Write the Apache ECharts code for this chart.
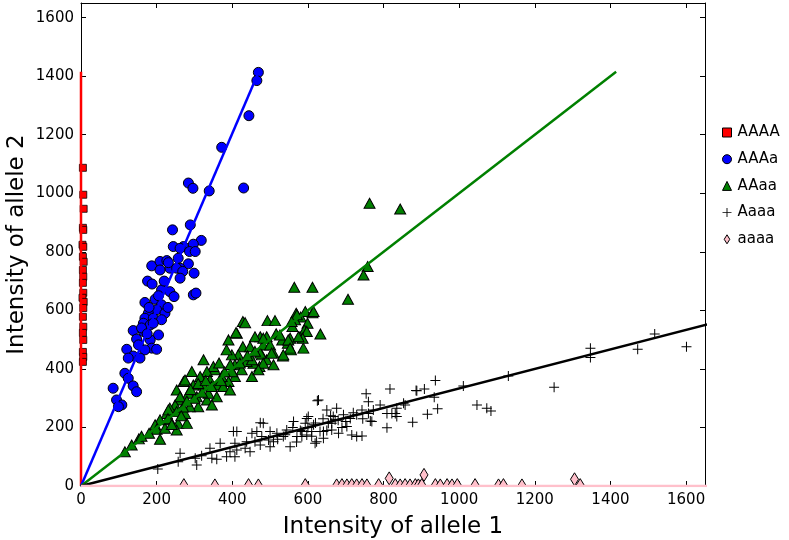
<!DOCTYPE html>
<html>
<head>
<meta charset="utf-8">
<script src="https://cdn.jsdelivr.net/npm/echarts@6.0.0/dist/echarts.min.js"></script>
<style>
  html, body { margin: 0; padding: 0; background: #fff; }
  #chart { width: 789px; height: 540px; }
</style>
</head>
<body>
<div id="chart"></div>
<script>
// tick labels
var xTicks = [0, 200, 400, 600, 800, 1000, 1200, 1400, 1600];
var yTicks = [0, 200, 400, 600, 800, 1000, 1200, 1400, 1600];

// genotype groups: [intensity allele 1, intensity allele 2]
var ptsAAAA = [[5,1087],[6,995],[7,947],[5,882],[6,875],[4,824],[6,817],[5,783],[7,766],[5,738],
  [6,715],[5,694],[6,660],[4,643],[7,629],[6,608],[5,578],[6,544],[5,523],[6,499],[5,458],[6,441],[5,424]];

var ptsAAAa = [[469,1413],[465,1385],[444,1265],[372,1157],[430,1018],[339,1008],[284,1035],[296,1017],
  [289,892],[242,875],[318,839],[297,826],[244,818],[271,818],[262,812],[287,801],[302,801],[257,778],
  [187,752],[209,767],[227,770],[284,759],[235,744],[262,744],[209,738],[231,763],[253,744],[269,733],
  [299,727],[262,710],[213,670],[235,664],[246,647],[297,653],[304,659],[169,627],[196,638],[213,619],
  [200,602],[222,590],[178,590],[169,573],[191,573],[213,568],[165,556],[183,550],[191,556],[138,531],
  [165,528],[205,516],[147,502],[183,499],[152,482],[121,467],[187,471],[200,467],[169,465],[138,444],
  [156,437],[125,437],[116,385],[125,368],[138,342],[147,322],[85,334],[94,294],[108,277],[99,271],
  [176,700],[188,690],[220,700],[205,650],[180,610],[230,610],[160,540],[175,520]];

var ptsAAaa = [[763,966],[844,946],[758,750],[747,721],[706,638],[564,679],[612,679],[593,596],[569,590],
  [612,592],[581,577],[599,556],[633,519],[591,533],[579,510],[566,568],[559,545],[553,505],[547,488],
  [532,499],[588,471],[555,465],[534,444],[516,520],[493,565],[513,565],[428,562],[474,510],[460,510],
  [491,510],[412,522],[390,499],[428,476],[447,476],[482,482],[500,482],[509,454],[478,448],[491,431],
  [509,414],[472,408],[456,419],[438,425],[416,448],[399,448],[385,465],[407,414],[425,397],[452,374],
  [407,374],[390,357],[372,374],[354,397],[350,408],[324,431],[293,391],[333,391],[315,374],[341,362],
  [359,345],[376,340],[394,328],[324,345],[297,345],[271,357],[253,328],[284,317],[306,305],[333,294],
  [359,305],[337,317],[346,277],[310,271],[288,271],[262,294],[249,277],[235,266],[253,254],[275,248],
  [227,248],[209,226],[235,226],[257,214],[253,191],[280,214],[196,209],[209,160],[200,194],[222,197],
  [153,161],[134,140],[116,117],[434,558],[410,524],[275,362],[262,305],[231,260],[597,528],[586,505],
  [571,585],[615,596],[557,562],[482,505],[526,516],[575,510],[548,499],[553,471],[535,448],[504,454],
  [474,454],[482,419],[469,397],[452,431],[300,300],[320,320],[345,340],[370,360],[400,390],[420,420],
  [440,445],[460,460],[230,230],[270,270],[180,180],[160,170],[290,330],[310,350],[365,420],[380,390],
  [395,415],[330,360],[280,290],[240,210],[265,240]];

var ptsAaaa = [[1601,476],[1517,519],[1472,467],[1347,471],[1347,439],[1251,337],[1130,376],[1011,342],
  [937,360],[908,331],[886,326],[817,331],[754,315],[934,303],[943,264],[916,245],[877,218],[809,199],
  [1047,277],[1073,266],[1084,256],[857,277],[835,237],[822,248],[791,277],[760,288],[769,220],[773,260],
  [743,260],[729,243],[712,231],[694,243],[676,266],[672,226],[703,203],[716,174],[743,171],[663,214],
  [888,325],[625,291],[619,146],[584,169],[681,180],[729,169],[650,260],[641,186],[610,186],[597,231],
  [760,248],[765,222],[809,248],[831,248],[853,283],[835,266],[203,58],[262,112],[306,72],[302,95],
  [319,103],[341,129],[359,91],[368,146],[385,100],[407,100],[412,123],[394,117],[407,146],[412,186],
  [438,151],[447,117],[460,151],[465,186],[482,214],[478,169],[496,157],[500,186],[518,180],[509,151],
  [535,169],[544,191],[553,134],[562,220],[571,169],[584,186],[593,214],[601,237],[615,209],[623,151],
  [628,294],[641,163],[654,214],[667,237],[663,191],[632,186],[597,174],[500,134],[474,140],[434,129],
  [257,83],[346,95],[403,186],[474,216],[452,180],[560,200],[580,190],[600,200],[620,215],[640,230],
  [660,240],[680,225],[700,220],[720,250],[745,230],[690,200],[650,190],[520,160],[540,175],[570,150],
  [610,170]];

var ptsaaaa = [[272,3],[354,2],[443,3],[469,2],[593,3],[676,2],[690,3],[703,2],[716,3],[729,2],[743,3],
  [756,2],[787,3],[815,26],[831,3],[844,2],[857,3],[870,2],[884,3],[892,2],[901,3],[907,38],[937,3],
  [950,2],[968,3],[981,2],[995,3],[1042,3],[1104,2],[1117,3],[1166,2],[1305,23],[1320,3]];

// fitted lines through the origin
var fitAAAA = [[0,0],[0,1415]];
var fitAAAa = [[0,0],[470,1415]];
var fitAAaa = [[0,0],[1415,1415]];
var fitAaaa = [[0,0],[4245,1415]];
var fitaaaa = [[0,0],[4245,0]];

var font = 'DejaVu Sans';
var plusPath = 'path://M-0.1,-1L0.1,-1L0.1,-0.1L1,-0.1L1,0.1L0.1,0.1L0.1,1L-0.1,1L-0.1,0.1L-1,0.1L-1,-0.1L-0.1,-0.1Z';
var diamondPath = 'path://M0,-1L0.62,0L0,1L-0.62,0Z';

function tickFmt(list) {
  return function (v) { return list.indexOf(v) >= 0 ? String(v) : ''; };
}

function mkAxis(pos, labels, ticks, name, gap) {
  var ax = {
    type: 'value', min: 0, max: 1650, interval: 200, position: pos,
    axisLine: { show: true, onZero: false, lineStyle: { color: '#000', width: 1 } },
    axisTick: { show: true, inside: true, length: 5, lineStyle: { color: '#000', width: 1 } },
    axisLabel: { show: labels, color: '#000', fontSize: 15, fontFamily: font, margin: 7, formatter: tickFmt(ticks) },
    splitLine: { show: false }
  };
  if (name) {
    ax.name = name;
    ax.nameLocation = 'middle';
    ax.nameGap = gap;
    ax.nameTextStyle = { color: '#000', fontSize: 23, fontFamily: font };
  }
  return ax;
}

function fitLine(name, data, color) {
  return {
    name: name, type: 'line', data: data, showSymbol: false, symbol: 'none', z: 4,
    lineStyle: { color: color, width: 2.5 }, clip: true, silent: true
  };
}

var yLeft = mkAxis('left', true, yTicks, 'Intensity of allele 2', 52);
yLeft.nameMoveOverlap = false;

var option = {
  animation: false,
  backgroundColor: '#fff',
  grid: { left: 81, right: 84, top: 3, bottom: 54, outerBoundsMode: 'none', containLabel: false },
  xAxis: [
    mkAxis('bottom', true, xTicks, 'Intensity of allele 1', 30),
    mkAxis('top', false, xTicks)
  ],
  yAxis: [
    yLeft,
    mkAxis('right', false, yTicks)
  ],
  legend: {
    orient: 'vertical', left: 717, top: 120, itemGap: 11.7,
    itemWidth: 9, itemHeight: 9, symbolKeepAspect: true,
    textStyle: { color: '#000', fontSize: 15, fontFamily: font, lineHeight: 15, padding: [0, 0, 0, 1] },
    data: [
      { name: 'AAAA', icon: 'rect', itemStyle: { color: '#ff0000', borderColor: '#000', borderWidth: 1 } },
      { name: 'AAAa', icon: 'circle', itemStyle: { color: '#0000ff', borderColor: '#000', borderWidth: 1 } },
      { name: 'AAaa', icon: 'triangle', itemStyle: { color: '#008000', borderColor: '#000', borderWidth: 1 } },
      { name: 'Aaaa', icon: plusPath, itemStyle: { color: '#000', borderWidth: 0 } },
      { name: 'aaaa', icon: diamondPath, itemStyle: { color: '#ffc0cb', borderColor: '#000', borderWidth: 1 } }
    ]
  },
  series: [
    { name: 'AAAA', type: 'scatter', data: ptsAAAA, symbol: 'rect', symbolSize: [7, 7], z: 2,
      itemStyle: { color: '#ff0000', borderColor: '#000', borderWidth: 0.8, opacity: 1 } },
    fitLine('AAAA', fitAAAA, '#ff0000'),
    { name: 'AAAa', type: 'scatter', data: ptsAAAa, symbol: 'circle', symbolSize: 10, z: 2,
      itemStyle: { color: '#0000ff', borderColor: '#000', borderWidth: 1, opacity: 1 } },
    fitLine('AAAa', fitAAAa, '#0000ff'),
    { name: 'AAaa', type: 'scatter', data: ptsAAaa, symbol: 'triangle', symbolSize: [11, 10], z: 2,
      itemStyle: { color: '#008000', borderColor: '#000', borderWidth: 1, opacity: 1 } },
    fitLine('AAaa', fitAAaa, '#008000'),
    { name: 'Aaaa', type: 'scatter', data: ptsAaaa, symbol: plusPath, symbolSize: 10, z: 2,
      itemStyle: { color: '#000', opacity: 1 } },
    fitLine('Aaaa', fitAaaa, '#000'),
    { name: 'aaaa', type: 'custom', data: ptsaaaa, clip: true, z: 2,
      encode: { x: 0, y: 1 },
      itemStyle: { color: '#ffc0cb', borderColor: '#000', borderWidth: 1 },
      renderItem: function (params, api) {
        var p = api.coord([api.value(0), api.value(1)]);
        return {
          type: 'polygon',
          shape: { points: [[p[0], p[1] - 6.5], [p[0] + 4, p[1]], [p[0], p[1] + 6.5], [p[0] - 4, p[1]]] },
          style: { fill: '#ffc0cb', stroke: '#000', lineWidth: 1 }
        };
      } },
    fitLine('aaaa', fitaaaa, '#ffc0cb')
  ]
};

var myChart = echarts.init(document.getElementById('chart'), null, { renderer: 'canvas' });
myChart.setOption(option);
</script>
</body>
</html>
